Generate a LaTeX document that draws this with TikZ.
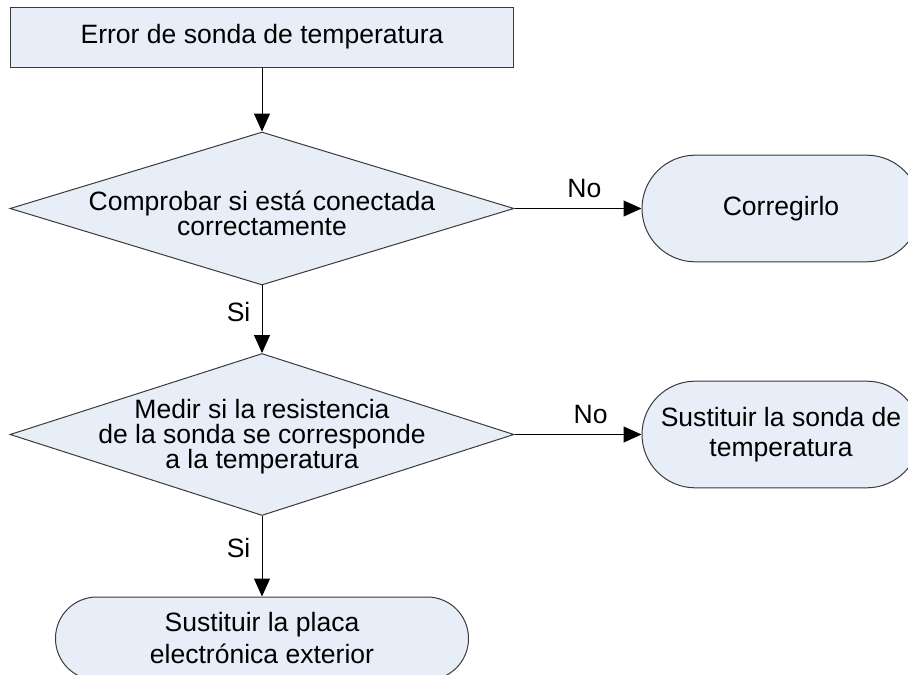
\documentclass[tikz,border=0pt]{standalone}
\usepackage{fontspec}
\setmainfont{Liberation Sans}
\usepackage{tikz}
\usetikzlibrary{arrows.meta,positioning,shapes.geometric}
\definecolor{PaleBlue}{HTML}{E8EEF8}
\definecolor{Edge}{HTML}{3A3A3A}

\begin{document}
\begin{tikzpicture}[x=0.75pt,y=-0.75pt,
    box/.style={rectangle,draw=Edge,fill=PaleBlue,line width=0.75pt,minimum width=377.25pt,minimum height=45pt,font=\fontsize{19.9}{23}\selectfont},
    decision/.style={diamond,draw=Edge,fill=PaleBlue,line width=0.75pt,minimum width=378pt,inner sep=0pt},
    txt/.style={align=center,inner sep=0pt,font=\fontsize{19.9}{18.75}\selectfont},
    endbox/.style={rectangle,rounded corners=40pt,draw=Edge,fill=PaleBlue,line width=0.75pt,minimum width=208.5pt,minimum height=80pt,align=center,font=\fontsize{19.9}{22.5}\selectfont},
    lbl/.style={font=\fontsize{19.9}{23}\selectfont},
    arrow/.style={-{Triangle[length=13.5pt,width=12pt]},line width=0.75pt,draw=black}
]
\useasboundingbox (0,0) rectangle (908,675);
\node[box] (start) at (262,37) {Error de sonda de temperatura};
\node[decision,minimum height=114.75pt] (check) at (262,208.5) {};
\node[txt] (checktext) at (262,213) {Comprobar si está conectada\\correctamente};
\node[endbox] (fix) at (781,208.5) {Corregirlo};
\node[decision,minimum height=121.5pt] (measure) at (262,434.5) {};
\node[txt] (measuretext) at (262,437) {Medir si la resistencia\\de la sonda se corresponde\\a la temperatura};
\node[endbox] (probe) at (781,434.5) {Sustituir la sonda de\\temperatura};
\node[endbox,minimum width=309.75pt,minimum height=62.25pt,rounded corners=31pt,font=\fontsize{19.9}{24}\selectfont] (board) at (262,638.5) {Sustituir la placa\\electrónica exterior};
\draw[arrow] (start) -- (check);
\draw[arrow] (check) -- node[lbl,pos=0.55,above=4pt] (no1) {No} (fix);
\draw[arrow] (check) -- node[lbl,pos=0.4,left=5pt] (si1) {Si} (measure);
\draw[arrow] (measure) -- node[lbl,pos=0.6,above=4pt] (no2) {No} (probe);
\draw[arrow] (measure) -- node[lbl,pos=0.4,left=5pt] (si2) {Si} (board);
\end{tikzpicture}
\end{document}
